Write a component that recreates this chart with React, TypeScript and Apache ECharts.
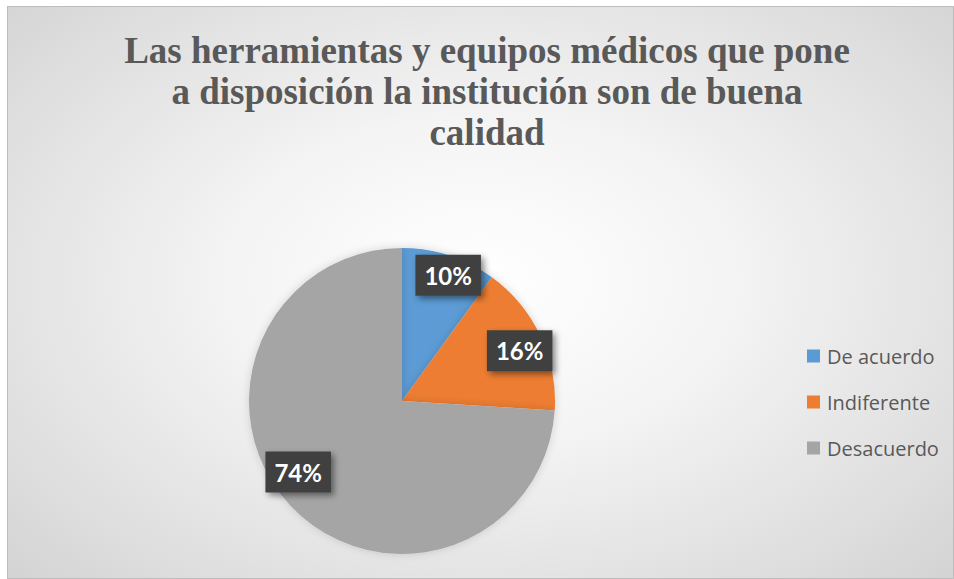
import React, { useEffect, useRef } from "react";
import * as echarts from "echarts";

const titleLines = [
  "Las herramientas y equipos médicos que pone",
  "a disposición la institución son de buena",
  "calidad",
];
const categories = ["De acuerdo", "Indiferente", "Desacuerdo"];
const values = [10, 16, 74];
const colors = ["#5B9BD5", "#ED7D31", "#A5A5A5"];

const CX = 394;
const CY = 394;
const R = 153;
const LABEL_FRAC = 0.85;
const labelNudge = [
  [6, -2],
  [0, 5],
  [-9, -18],
];

export default function App() {
  const ref = useRef<HTMLDivElement>(null);
  useEffect(() => {
    if (!ref.current) return;
    const chart = echarts.init(ref.current, null, { renderer: "svg" });
    const total = values.reduce((a, b) => a + b, 0);
    const cum: number[] = [];
    let acc = 0;
    values.forEach((v) => {
      cum.push(acc + v / 2);
      acc += v;
    });
    chart.setOption({
      animation: false,
      backgroundColor: "transparent",
      title: {
        text: titleLines.join("\n"),
        left: 474,
        textAlign: "center",
        top: 18,
        textStyle: {
          fontFamily: "'Liberation Serif', 'Times New Roman', serif",
          fontWeight: "bold",
          fontSize: 37,
          lineHeight: 41,
          color: "#595959",
        },
      },
      legend: {
        orient: "vertical",
        left: 799,
        top: 339,
        padding: 0,
        itemWidth: 13,
        itemHeight: 13,
        itemGap: 26,
        icon: "rect",
        data: categories,
        textStyle: {
          fontFamily: "'Open Sans', Lato, sans-serif",
          fontSize: 20,
          lineHeight: 20,
          color: "#595959",
          padding: [0, 0, 0, 2],
        },
      },
      series: [
        {
          type: "pie",
          center: [CX, CY],
          radius: [0, R],
          startAngle: 90,
          clockwise: true,
          color: colors,
          itemStyle: {
            shadowColor: "rgba(0,0,0,0.15)",
            shadowBlur: 8,
          },
          emphasis: { disabled: true },
          labelLine: { show: false },
          label: {
            show: true,
            position: "inside",
            formatter: (p: any) => Math.round((p.value / total) * 100) + "%",
            fontFamily: "Lato, 'Open Sans', sans-serif",
            fontWeight: "bold",
            fontSize: 24,
            lineHeight: 24,
            color: "#ffffff",
            backgroundColor: "#404040",
            padding: [9, 9, 8, 9],
            shadowColor: "rgba(0,0,0,0.45)",
            shadowBlur: 6,
            shadowOffsetX: 3,
            shadowOffsetY: 3,
          },
          labelLayout: (params: any) => {
            const i = params.dataIndex;
            const ang = (cum[i] / total) * Math.PI * 2;
            const x = CX + Math.sin(ang) * R * LABEL_FRAC + labelNudge[i][0];
            const y = CY - Math.cos(ang) * R * LABEL_FRAC + labelNudge[i][1];
            return { x, y, align: "center", verticalAlign: "middle" };
          },
          data: categories.map((name, i) => ({ name, value: values[i] })),
        },
      ],
    });
    return () => chart.dispose();
  }, []);
  return (
    <div
      style={{
        position: "absolute",
        left: 7,
        top: 6,
        width: 947,
        height: 573,
        boxSizing: "border-box",
        border: "1px solid #bdbdbd",
        background:
          "radial-gradient(ellipse 75% 80% at 50% 48%, #ffffff 0%, #f4f4f4 35%, #dedede 75%, #cfcfcf 100%)",
      }}
    >
      <div ref={ref} style={{ width: "100%", height: "100%" }} />
    </div>
  );
}
